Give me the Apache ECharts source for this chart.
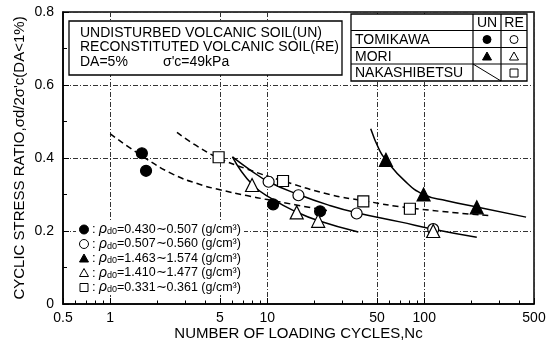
<!DOCTYPE html>
<html><head><meta charset="utf-8">
<script src="https://cdn.jsdelivr.net/npm/echarts@6/dist/echarts.min.js"></script>
<style>html,body{margin:0;padding:0;background:#fff}#c{width:554px;height:356px}</style>
</head><body><div id="c"></div><script>
// ---- tick labels ----
const xTickLabels = [0.5, 1, 5, 10, 50, 100, 500];
const xMinorTicks = [0.6,0.7,0.8,0.9,2,3,4,6,7,8,9,20,30,40,60,70,80,90,200,300,400];
const yMin = 0, yMax = 0.8, yStep = 0.2;

// ---- measured points: N (cycles), ratio ----
const unTomikawaN = [1.59, 1.69, 10.9, 21.7];
const unTomikawaR = [0.413, 0.365, 0.273, 0.254];
const reTomikawaN = [10.2, 15.8, 37.1, 114];
const reTomikawaR = [0.335, 0.298, 0.248, 0.205];
const unMoriN = [57, 99, 216];
const unMoriR = [0.395, 0.300, 0.265];
const reMoriN = [8.0, 15.4, 21.1, 114];
const reMoriR = [0.326, 0.251, 0.228, 0.200];
const reNakaN = [4.9, 12.6, 40.9, 81];
const reNakaR = [0.402, 0.337, 0.281, 0.261];

// ---- fitted curves ----
const cUnTomiN = [1.0, 1.6, 2.5, 3.7, 5, 7.4, 10, 15, 24];
const cUnTomiR = [0.466, 0.405, 0.356, 0.328, 0.313, 0.297, 0.286, 0.272, 0.256];
const cReNakaN = [2.66, 3.5, 4.9, 7.4, 12.6, 25, 41, 81, 260];
const cReNakaR = [0.47, 0.435, 0.40, 0.37, 0.337, 0.30, 0.283, 0.263, 0.242];
const cReTomiN = [6.0, 7.8, 10.2, 15.8, 25, 37, 70, 114, 216];
const cReTomiR = [0.403, 0.367, 0.335, 0.30, 0.27, 0.25, 0.225, 0.205, 0.183];
const cReMoriN = [6.0, 8.0, 11, 15.4, 21, 38];
const cReMoriR = [0.403, 0.328, 0.285, 0.252, 0.229, 0.197];
const cUnMoriN = [45.6, 52, 57, 74, 99, 139, 216, 445];
const cUnMoriR = [0.48, 0.42, 0.395, 0.34, 0.30, 0.283, 0.266, 0.238];

// ---- text ----
const boxLines = ['UNDISTURBED VOLCANIC SOIL(UN)', 'RECONSTITUTED VOLCANIC SOIL(RE)', 'DA=5%', "σ'c=49kPa"];
const siteNames = ['TOMIKAWA', 'MORI', 'NAKASHIBETSU'];
const densityRanges = ['0.430∼0.507', '0.507∼0.560', '1.463∼1.574', '1.410∼1.477', '0.331∼0.361'];

const zip = (a, b) => a.map((v, i) => [v, b[i]]);
const FONT = '"Liberation Sans", Arial, sans-serif';
const grid = { left: 63, right: 20, top: 12, bottom: 52 };

function curve(n, r, dashed) {
  return { type: 'line', data: zip(n, r), smooth: 0.5, symbol: 'none', silent: true,
    lineStyle: { color: '#000', width: 1.5, type: dashed ? [6, 4] : 'solid' }, z: 3 };
}
function pts(n, r, symbol, filled, size) {
  return { type: 'scatter', data: zip(n, r), symbol, symbolSize: size,
    itemStyle: { color: filled ? '#000' : '#fff', borderColor: '#000', borderWidth: 1.2, opacity: 1 }, z: 5 };
}

// graphic helpers
const G = [];
const txt = (x, y, text, size, align, extra) => G.push(Object.assign({ type: 'text', x, y, z: 102,
  style: Object.assign({ text, font: size + 'px ' + FONT, fill: '#000', align: align || 'left', verticalAlign: 'middle',
    textAlign: align || 'left', textVerticalAlign: 'middle' }, extra || {}) }));
const line = (x1, y1, x2, y2, w) => G.push({ type: 'line', z: 101, shape: { x1, y1, x2, y2 }, style: { stroke: '#000', lineWidth: w || 1.2 } });
const rect = (x, y, w, h, stroke) => G.push({ type: 'rect', z: 100, shape: { x, y, width: w, height: h },
  style: { fill: '#fff', stroke: stroke ? '#000' : null, lineWidth: 1.3 } });
function mark(kind, filled, cx, cy, s) {
  const st = { fill: filled ? '#000' : '#fff', stroke: '#000', lineWidth: 1 };
  if (kind === 'circle') G.push({ type: 'circle', z: 103, shape: { cx, cy, r: s / 2 }, style: st });
  else if (kind === 'triangle') G.push({ type: 'polygon', z: 103, shape: { points: [[cx, cy - s / 2], [cx + s / 2, cy + s / 2 - 1], [cx - s / 2, cy + s / 2 - 1]] }, style: st });
  else G.push({ type: 'rect', z: 103, shape: { x: cx - s / 2, y: cy - s / 2, width: s, height: s }, style: st });
}

// info box
rect(69, 21, 273, 54, true);
txt(80, 33.5, boxLines[0], 14);
txt(80, 47.5, boxLines[1], 14);
txt(80, 62, boxLines[2], 14);
txt(163, 62, boxLines[3], 14);

// site table
const tx0 = 351, tx1 = 473, tx2 = 501, tx3 = 527, ty = [14, 30.5, 47.5, 64, 81];
rect(tx0, ty[0], tx3 - tx0, ty[4] - ty[0], true);
[1, 2, 3].forEach(i => line(tx0, ty[i], tx3, ty[i]));
line(tx1, ty[0], tx1, ty[4]);
line(tx2, ty[0], tx2, ty[4]);
line(tx1, ty[3], tx2, ty[4], 1);
txt((tx1 + tx2) / 2, 23, 'UN', 14, 'center');
txt((tx2 + tx3) / 2, 23, 'RE', 14, 'center');
siteNames.forEach((s, i) => txt(tx0 + 4, (ty[i + 1] + ty[i + 2]) / 2 + 1, s, 14));
mark('circle', true, 487, 39.5, 8);
mark('circle', false, 514, 39.5, 8);
mark('triangle', true, 487, 56.5, 9);
mark('triangle', false, 514, 56.5, 9);
mark('rect', false, 514, 73, 8);

// density legend
rect(76, 221, 168, 74, false);
const legKinds = [['circle', true], ['circle', false], ['triangle', true], ['triangle', false], ['rect', false]];
densityRanges.forEach((d, i) => {
  const y = 229.5 + i * 14.5;
  mark(legKinds[i][0], legKinds[i][1], 84, y, legKinds[i][0] === 'rect' ? 8 : 9);
  txt(92, y, ':', 13);
  G.push({ type: 'text', x: 99, y, z: 102, style: {
    text: '{r|ρ}{s|d0}{n|=' + d + ' (g/cm³)}', verticalAlign: 'middle', textVerticalAlign: 'middle', fill: '#000',
    rich: { r: { font: 'italic 14px ' + FONT, fill: '#000' }, s: { font: '9px ' + FONT, fill: '#000', verticalAlign: 'bottom', padding: [5, 0, 0, 0] },
      n: { font: '12.5px ' + FONT, fill: '#000' } } } });
});

const gridLine = { show: true, lineStyle: { color: '#333', width: 1, type: [5, 2, 1, 2] } };

const option = {
  animation: false,
  backgroundColor: '#fff',
  grid: Object.assign({ show: true, borderColor: '#000', borderWidth: 1.5, backgroundColor: 'transparent' }, grid),
  xAxis: [{
    type: 'log', logBase: 10, min: 0.5, max: 500, gridIndex: 0,
    name: 'NUMBER OF LOADING CYCLES,Nc', nameLocation: 'middle', nameGap: 22, nameMoveOverlap: false,
    nameTextStyle: { fontFamily: FONT, fontSize: 15, color: '#000', verticalAlign: 'top' },
    axisLine: { show: true, lineStyle: { color: '#000', width: 1.5 } },
    axisTick: { show: true, inside: true, length: 6, customValues: xTickLabels, lineStyle: { color: '#000' } },
    axisLabel: { customValues: xTickLabels, fontFamily: FONT, fontSize: 14, color: '#000', margin: 7 },
    splitLine: gridLine
  }, {
    type: 'log', logBase: 10, min: 0.5, max: 500, gridIndex: 0, position: 'bottom',
    axisLine: { show: false },
    axisTick: { show: true, inside: true, length: 3.5, customValues: xMinorTicks, lineStyle: { color: '#000' } },
    axisLabel: { show: false }, splitLine: { show: false }
  }],
  yAxis: {
    type: 'value', min: yMin, max: yMax, interval: yStep,
    name: "CYCLIC STRESS RATIO,σd/2σ'c(DA<1%)", nameLocation: 'middle', nameGap: 36, nameMoveOverlap: false,
    nameTextStyle: { fontFamily: FONT, fontSize: 15, color: '#000' },
    axisLine: { show: true, lineStyle: { color: '#000', width: 1.5 } },
    axisTick: { show: true, inside: true, length: 6, lineStyle: { color: '#000' } },
    minorTick: { show: true, splitNumber: 2, length: 4, lineStyle: { color: '#000' } },
    axisLabel: { fontFamily: FONT, fontSize: 14, color: '#000', margin: 9 },
    splitLine: gridLine
  },
  series: [
    curve(cUnTomiN, cUnTomiR, true),
    curve(cReNakaN, cReNakaR, true),
    curve(cReTomiN, cReTomiR, false),
    curve(cReMoriN, cReMoriR, false),
    curve(cUnMoriN, cUnMoriR, false),
    pts(unTomikawaN, unTomikawaR, 'circle', true, 11),
    pts(reTomikawaN, reTomikawaR, 'circle', false, 11),
    pts(unMoriN, unMoriR, 'triangle', true, 13),
    pts(reMoriN, reMoriR, 'triangle', false, 13),
    pts(reNakaN, reNakaR, 'rect', false, 11)
  ],
  graphic: { elements: G }
};
const chart = echarts.init(document.getElementById('c'), null, { renderer: 'canvas' });
chart.setOption(option);
</script></body></html>
